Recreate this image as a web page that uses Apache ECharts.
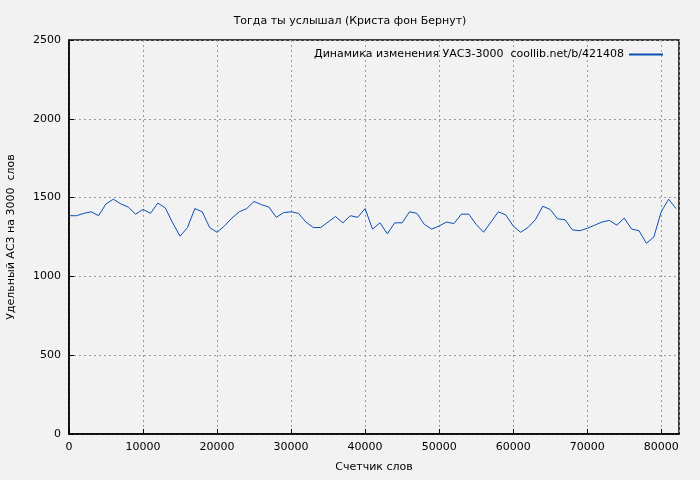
<!DOCTYPE html>
<html><head><meta charset="utf-8">
<script src="https://cdn.jsdelivr.net/npm/echarts@6/dist/echarts.min.js"></script>
<style>html,body{margin:0;padding:0;background:#f2f2f2}#c{width:700px;height:480px}</style>
</head><body><div id="c"></div>
<script>
const words = [0,1000,2000,3000,4000,5000,6000,7000,8000,9000,10000,11000,12000,13000,14000,15000,16000,17000,18000,19000,20000,21000,22000,23000,24000,25000,26000,27000,28000,29000,30000,31000,32000,33000,34000,35000,36000,37000,38000,39000,40000,41000,42000,43000,44000,45000,46000,47000,48000,49000,50000,51000,52000,53000,54000,55000,56000,57000,58000,59000,60000,61000,62000,63000,64000,65000,66000,67000,68000,69000,70000,71000,72000,73000,74000,75000,76000,77000,78000,79000,80000,81000,82000];
const values = [1385,1385,1400,1410,1385,1460,1490,1460,1440,1395,1425,1400,1465,1435,1340,1255,1310,1430,1410,1310,1280,1320,1370,1410,1430,1475,1455,1440,1375,1405,1410,1400,1345,1310,1310,1345,1380,1340,1385,1375,1430,1300,1340,1270,1340,1340,1410,1400,1330,1300,1320,1345,1335,1395,1395,1330,1280,1345,1410,1390,1320,1280,1310,1360,1445,1425,1365,1360,1295,1290,1305,1325,1345,1355,1325,1370,1300,1290,1210,1250,1410,1490,1430];
const chart = echarts.init(document.getElementById('c'));
const grid = {lineStyle:{color:'#999',type:[2,3],width:1}};
const font = 'DejaVu Sans';
chart.setOption({
  backgroundColor:'#f2f2f2',
  animation:false,
  title:{text:'Тогда ты услышал (Криста фон Бернут)',left:'center',top:11,textStyle:{fontSize:11,fontWeight:'normal',color:'#000',fontFamily:font}},
  legend:{right:32,top:44,itemWidth:34,itemHeight:2,icon:'rect',itemGap:8,align:'right',
    textStyle:{fontSize:11,color:'#000',fontFamily:font},
    data:[{name:'Динамика изменения УАС3-3000  coollib.net/b/421408'}]},
  grid:{left:69,right:21,top:40,bottom:46,show:true,borderColor:'#000',borderWidth:1.5,backgroundColor:'transparent',outerBoundsMode:'none'},
  xAxis:{type:'value',min:0,max:82400,interval:10000,
    axisLine:{lineStyle:{color:'#000',width:1.5}},axisTick:{inside:true,lineStyle:{color:'#000'}},
    axisLabel:{color:'#000',fontSize:11,fontFamily:font,showMaxLabel:false,formatter:v=>String(v)},
    splitLine:{show:true,...grid},
    name:'Счетчик слов',nameLocation:'middle',nameGap:28,nameTextStyle:{fontSize:11,color:'#000',fontFamily:font}},
  yAxis:{type:'value',min:0,max:2500,interval:500,
    axisLine:{show:true,lineStyle:{color:'#000',width:1.5}},axisTick:{show:true,inside:true,lineStyle:{color:'#000'}},
    axisLabel:{color:'#000',fontSize:11,fontFamily:font,formatter:v=>String(v)},
    splitLine:{show:true,...grid},
    name:'Удельный АС3 на 3000  слов',nameLocation:'middle',nameGap:52,nameTextStyle:{fontSize:11,color:'#000',fontFamily:font}},
  series:[{name:'Динамика изменения УАС3-3000  coollib.net/b/421408',type:'line',showSymbol:false,
    data:words.map((w,i)=>[w,values[i]]),lineStyle:{color:'#0a4fb5',width:1},itemStyle:{color:'#0a4fb5'}}]
});
</script></body></html>
